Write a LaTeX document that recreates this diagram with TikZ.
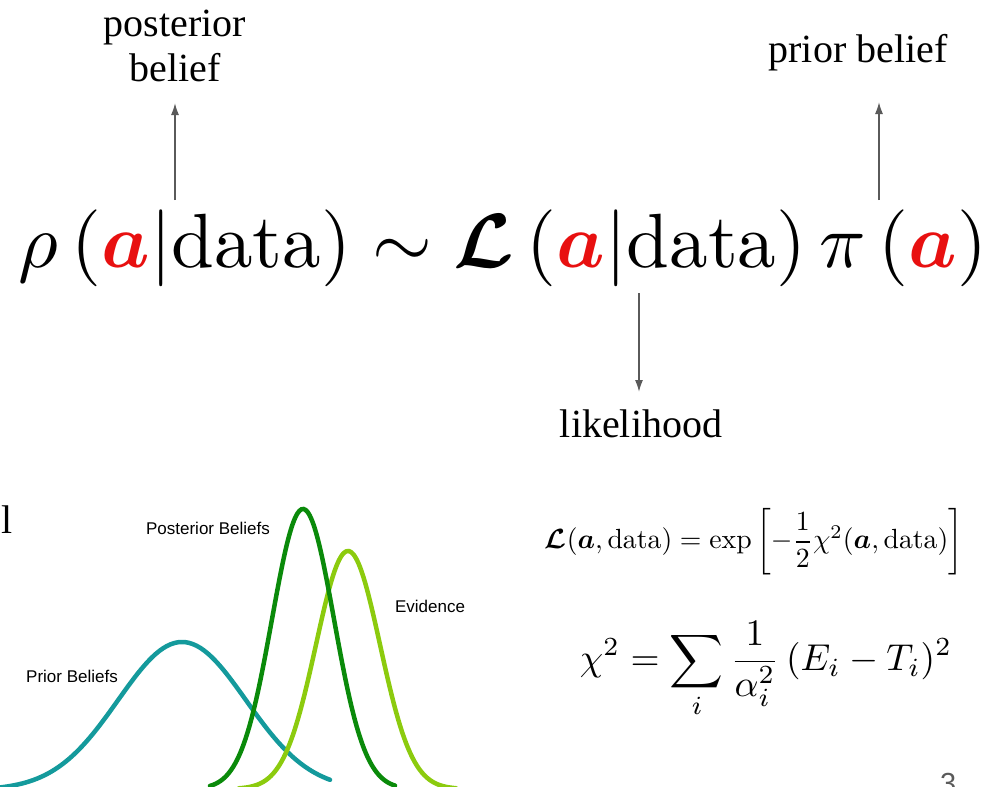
\documentclass[tikz,border=0pt]{standalone}
\usepackage{amsmath}
\usepackage{bm}
\usepackage{graphicx}
\usepackage{fontspec}
\newfontfamily\labelfont{Liberation Serif}
\newfontfamily\chartfont{Liberation Sans}
\usetikzlibrary{arrows.meta}

\definecolor{avec}{HTML}{E81010}
\definecolor{priorcol}{HTML}{149A9C}
\definecolor{postcol}{HTML}{0A8A0A}
\definecolor{evidcol}{HTML}{8CCB0E}
\definecolor{pointcol}{HTML}{5A5A5A}
\newcommand{\va}{\textcolor{avec}{\bm{a}}}

\begin{document}
\begin{tikzpicture}[x=1pt, y=-1pt,
  pointer/.style={draw=pointcol, line width=1.6pt, -{Latex[length=12pt,width=8pt]}},
  bigword/.style={font=\labelfont\fontsize{40}{45}\selectfont, inner sep=0pt},
  chartword/.style={font=\chartfont\fontsize{17}{20}\selectfont, inner sep=0pt},
  bell/.style={line width=4.5pt, line cap=round}]
\useasboundingbox (0,0) rectangle (996,787);

% main relation
\node[inner sep=0pt, anchor=base] (bayes) at (503,267)
  {\resizebox{968pt}{!}{$\rho\left(\va\middle|\mathrm{data}\right)\sim\bm{\mathcal{L}}\left(\va\middle|\mathrm{data}\right)\pi\left(\va\right)$}};

% labels
\node[bigword, align=center, anchor=south] (post) at (175,82) {posterior\\belief};
\node[bigword, anchor=base] (prior) at (858,62) {prior belief};
\node[bigword, anchor=base] (like) at (641,437) {likelihood};
\node[bigword, anchor=base west] (cut) at (1,533) {l};

\coordinate (postfoot) at (175,200);
\coordinate (posttip) at (175,103);
\coordinate (priorfoot) at (879,200);
\coordinate (priortip) at (879,102);
\coordinate (likefoot) at (639,293);
\coordinate (liketip) at (639,392);
\draw[pointer] (postfoot) -- (posttip);
\draw[pointer] (priorfoot) -- (priortip);
\draw[pointer] (likefoot) -- (liketip);

% bell curves
\draw[bell, priorcol] plot[domain=0:330, samples=90, smooth] (\x, {790-148*exp(-0.5*((\x-182)/64)^2)});
\draw[bell, evidcol] plot[domain=239:456, samples=90, smooth] (\x, {789-238*exp(-0.5*((\x-348)/32)^2)});
\draw[bell, postcol] plot[domain=210:395, samples=90, smooth] (\x, {789-280*exp(-0.5*((\x-303)/31)^2)});

\node[chartword] (postname) at (208,528) {Posterior Beliefs};
\node[chartword] (evidname) at (430,606) {Evidence};
\node[chartword] (priorname) at (72,676) {Prior Beliefs};

% formulas
\node[inner sep=0pt] (likeeq) at (754,542)
  {\resizebox{418pt}{!}{$\bm{\mathcal{L}}(\bm{a},\mathrm{data})=\exp\left[-\dfrac{1}{2}\chi^2(\bm{a},\mathrm{data})\right]$}};
\node[inner sep=0pt] (chieq) at (766,670)
  {\resizebox{372pt}{!}{$\displaystyle\chi^2=\sum_i\frac{1}{\alpha_i^2}\,(E_i-T_i)^2$}};

\node[font=\chartfont\fontsize{29}{32}\selectfont, text=pointcol, inner sep=0pt, anchor=north west] (pagenum) at (940,773) {3};
\end{tikzpicture}
\end{document}
